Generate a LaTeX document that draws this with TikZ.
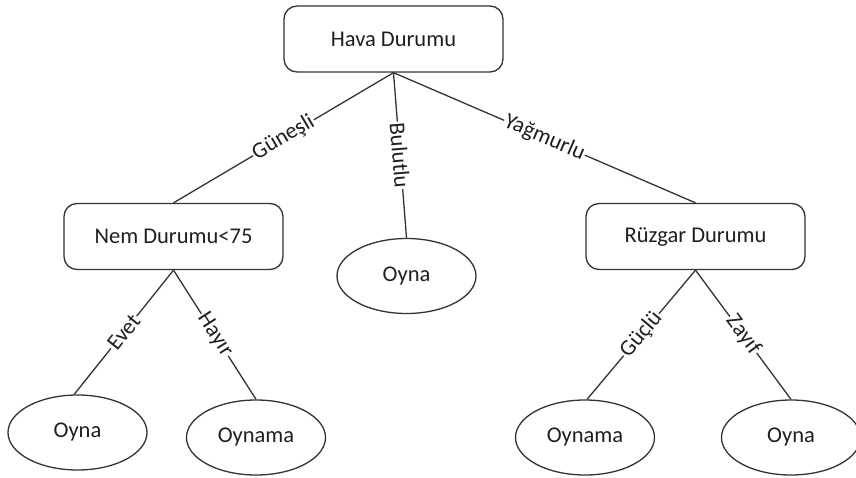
\documentclass[tikz,border=0pt]{standalone}
\usepackage{fontspec}
\setmainfont{Carlito}
\usetikzlibrary{shapes.geometric}
\begin{document}
\begin{tikzpicture}[x=1pt,y=-1pt,
  every node/.style={font=\fontsize{22.5}{27}\selectfont, text=black!88},
  decbox/.style={draw=black!80, line width=1.3pt, rounded corners=13pt, minimum width=219pt, minimum height=66pt, inner sep=0pt},
  leaf/.style={draw=black!80, line width=1.3pt, ellipse, minimum width=139pt, minimum height=75pt, inner sep=0pt},
  edge/.style={draw=black!80, line width=1.3pt},
  elabel/.style={fill=white, sloped, midway, inner sep=1pt}
]
\useasboundingbox (0,0) rectangle (856,478);
\node[decbox] (hava) at (393.5,39) {Hava Durumu};
\node[decbox] (nem) at (173.5,236.5) {Nem Durumu<75};
\node[decbox] (ruz) at (695.5,236.5) {Rüzgar Durumu};
\node[leaf] (oyM) at (406.5,276) {Oyna};
\node[leaf] (oyL) at (77.5,432.5) {Oyna};
\node[leaf] (onL) at (256,437.5) {Oynama};
\node[leaf] (onR) at (585,437.5) {Oynama};
\node[leaf] (oyR) at (791,437.5) {Oyna};

\draw[edge] (hava.south) -- node[elabel] {Güneşli} (nem.north);
\draw[edge] (hava.south) -- node[elabel] {Bulutlu} (oyM.north);
\draw[edge] (hava.south) -- node[elabel] {Yağmurlu} (ruz.north);
\draw[edge] (nem.south) -- node[elabel] {Evet} (oyL.95);
\draw[edge] (nem.south) -- node[elabel] {Hayır} (onL.north);
\draw[edge] (ruz.south) -- node[elabel] {Güçlü} (onR.87);
\draw[edge] (ruz.south) -- node[elabel] {Zayıf} (oyR.north);
\end{tikzpicture}
\end{document}
